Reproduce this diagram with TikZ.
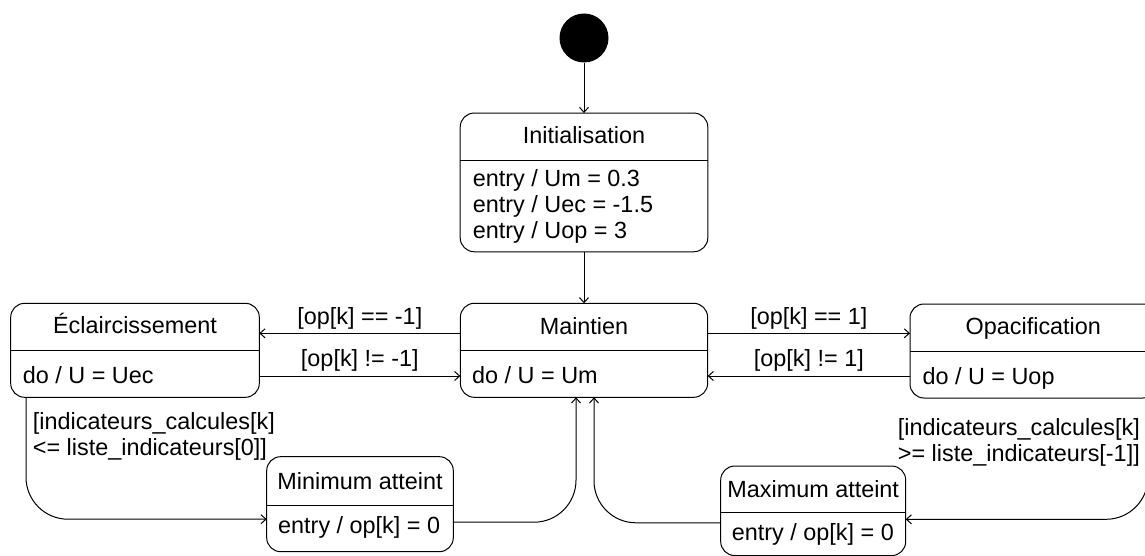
\documentclass[tikz,border=0pt]{standalone}
\usepackage{fontspec}
\setmainfont{Liberation Sans}
\usetikzlibrary{arrows.meta}
\tikzset{
  statebox/.style={draw, line width=1pt, rounded corners=14pt, outer sep=0pt, inner sep=0pt},
  txt/.style={font=\fontsize{23.4}{26}\selectfont, inner sep=0pt, text height=17pt, text depth=4pt},
  txtblock/.style={font=\fontsize{23.4}{26}\selectfont, inner sep=0pt},
  trans/.style={draw, line width=1pt, -{Straight Barb[length=5pt,width=9pt]}},
  divider/.style={line width=1pt}
}
\begin{document}
\begin{tikzpicture}[x=1pt,y=-1pt]
\clip (0,0) rectangle (1145,556);
\node[circle, fill=black, minimum size=49pt, inner sep=0pt] (start) at (584,38) {};
\node[statebox, minimum width=247.6pt, minimum height=138.7pt] (init) at (584,182.4) {};
\node[statebox, minimum width=247.3pt, minimum height=94pt] (maint) at (584,350.3) {};
\node[statebox, minimum width=248.6pt, minimum height=94pt] (ecl) at (135,350.3) {};
\node[statebox, minimum width=247pt, minimum height=94pt] (opac) at (1033.5,351) {};
\node[statebox, minimum width=186.6pt, minimum height=95pt] (mini) at (360,504.2) {};
\node[statebox, minimum width=185pt, minimum height=89.5pt] (maxi) at (813.2,510.8) {};
\draw[divider] (init.west |- 0,161) -- (init.east |- 0,161);
\draw[divider] (maint.west |- 0,350) -- (maint.east |- 0,350);
\draw[divider] (ecl.west |- 0,350.7) -- (ecl.east |- 0,350.7);
\draw[divider] (opac.west |- 0,351.7) -- (opac.east |- 0,351.7);
\draw[divider] (mini.west |- 0,505) -- (mini.east |- 0,505);
\draw[divider] (maxi.west |- 0,512.7) -- (maxi.east |- 0,512.7);
\node[txt] (init-title) at (584,136.7) {Initialisation};
\node[txtblock, anchor=west, align=left] (init-body) at (472.7,206) {entry / Um = 0.3\\entry / Uec = -1.5\\entry / Uop = 3};
\node[txt] (maint-title) at (584,328) {Maintien};
\node[txt, anchor=west] (maint-body) at (472,376.7) {do / U = Um};
\node[txt] (ecl-title) at (135,326.7) {Éclaircissement};
\node[txt, anchor=west] (ecl-body) at (22.7,377) {do / U = Uec};
\node[txt] (opac-title) at (1033.3,328) {Opacification};
\node[txt, anchor=west] (opac-body) at (922.3,378.3) {do / U = Uop};
\node[txt] (mini-title) at (360,482.7) {Minimum atteint};
\node[txt, anchor=west] (mini-body) at (278,527.3) {entry / op[k] = 0};
\node[txt] (maxi-title) at (813.2,491) {Maximum atteint};
\node[txt, anchor=west] (maxi-body) at (731.7,534.3) {entry / op[k] = 0};
\draw[trans] (start.south) -- (start.south |- init.north);
\draw[trans] (init.south) -- (init.south |- maint.north);
\draw[trans] ([yshift=17pt]maint.west) -- ([yshift=17pt]maint.west -| ecl.east)
  node[txt, midway, yshift=15pt] (lbl-ecl-in) {[op[k] == -1]};
\draw[trans] ([yshift=-25.7pt]ecl.east |- maint.west) -- ([yshift=-25.7pt]maint.west)
  node[txt, midway, yshift=16pt] (lbl-ecl-out) {[op[k] != -1]};
\draw[trans] ([yshift=17pt]maint.east) -- ([yshift=17pt]maint.east -| opac.west)
  node[txt, midway, yshift=15pt] (lbl-opac-in) {[op[k] == 1]};
\draw[trans] ([yshift=-25.7pt]opac.west |- maint.east) -- ([yshift=-25.7pt]maint.east)
  node[txt, midway, yshift=16pt] (lbl-opac-out) {[op[k] != 1]};
\draw[trans, rounded corners=42pt] ([xshift=15.3pt]ecl.south west) |- ([yshift=-15pt]mini.west);
\draw[trans, rounded corners=42pt] ([yshift=-18pt]mini.east) -| ([xshift=-8pt]maint.south);
\draw[trans, rounded corners=42pt] ([yshift=-12pt]maxi.west) -| ([xshift=10pt]maint.south);
\draw[trans, rounded corners=42pt] ([xshift=114.5pt]opac.south) |- ([yshift=-8.5pt]maxi.east);
\node[txtblock, anchor=west, align=left] (lbl-mini) at (32.7,436.8) {[indicateurs\_calcules[k]\\<= liste\_indicateurs[0]]};
\node[txtblock, anchor=east, align=right, fill=white] (lbl-maxi) at (1140,442.2) {[indicateurs\_calcules[k]\\>= liste\_indicateurs[-1]]};
\end{tikzpicture}
\end{document}
